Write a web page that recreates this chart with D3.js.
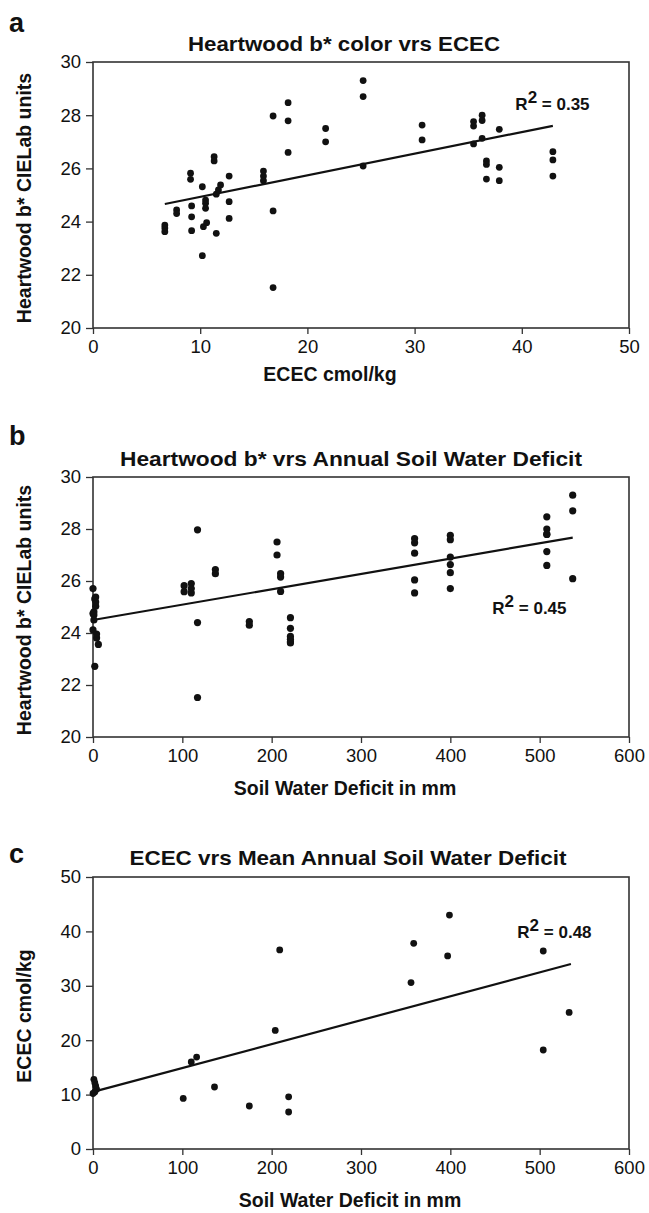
<!DOCTYPE html>
<html>
<head>
<meta charset="utf-8">
<script src="https://cdn.jsdelivr.net/npm/d3@7"></script>
<style>
  body { margin: 0; background: #fff; }
  text { font-family: "Liberation Sans", Arial, sans-serif; fill: #111; }
</style>
</head>
<body>
<svg id="chart" width="649" height="1213"></svg>
<script>
// tree level values (same trees in panel a and b)
const bstar = [23.87,23.76,23.62, 24.44,24.30, 25.82,25.59, 24.59,24.18,23.66, 25.31,22.72, 23.81,23.96,
  24.69,24.50,24.81, 26.44,26.28, 23.56, 25.03,25.19,25.38, 25.71,24.75,24.12, 25.90,25.71,25.54,
  27.97,24.40,21.52, 28.47,27.79,26.60, 27.50,27.00, 29.30,28.70,26.09, 27.63,27.07, 27.76,27.59,26.92,
  28.00,27.80,27.13, 26.28,26.15,25.60, 27.47,26.04,25.54, 26.63,26.32,25.71];
const ecec = [6.7,6.7,6.7, 7.8,7.8, 9.1,9.1, 9.2,9.2,9.2, 10.2,10.2, 10.3,10.6,
  10.5,10.5,10.5, 11.3,11.3, 11.5, 11.5,11.7,11.9, 12.7,12.7,12.7, 15.9,15.9,15.9,
  16.8,16.8,16.8, 18.2,18.2,18.2, 21.7,21.7, 25.2,25.2,25.2, 30.7,30.7, 35.5,35.5,35.5,
  36.3,36.3,36.3, 36.7,36.7,36.7, 37.9,37.9,37.9, 42.9,42.9,42.9];
const swd = [221,221,221, 175,175, 102,102, 221,221,221, 2,2, 4,4,
  1,1,1, 137,137, 6, 3,3,3, 0,0,0, 110,110,110,
  117,117,117, 508,508,508, 206,206, 537,537,537, 360,360, 400,400,400,
  508,508,508, 210,210,210, 360,360,360, 400,400,400];

// site level values (panel c)
const siteSwd  = [1,2,3,4,2,0, 101,110,116,136,175,204,209,219,219,356,359,397,399,504,504,533];
const siteEcec = [12.8,12.2,11.6,11.0,10.5,10.2, 9.3,16.0,16.9,11.4,7.9,21.8,36.6,9.6,6.8,30.6,37.8,35.5,43.0,36.4,18.2,25.1];

// fitted lines
const trendA = [[6.7, 24.66], [42.9, 27.6]];
const trendB = [[0, 24.5], [537, 27.67]];
const trendC = [[0, 10.5], [535, 34.0]];

const ticksB = [20, 22, 24, 26, 28, 30];
const ticksEcecX = [0, 10, 20, 30, 40, 50];
const ticksSwd = [0, 100, 200, 300, 400, 500, 600];
const ticksEcecY = [0, 10, 20, 30, 40, 50];

const svg = d3.select('#chart');
svg.append('rect').attr('width', 649).attr('height', 1213).attr('fill', '#fff');

const left = 93, right = 629;

function drawPanel(cfg) {
  const g = svg.append('g');
  const x = d3.scaleLinear().domain(cfg.xDomain).range([left, right]);
  const y = d3.scaleLinear().domain(cfg.yDomain).range([cfg.bottom, cfg.top]);

  // letter and title
  g.append('text').attr('x', 9).attr('y', cfg.letterY)
    .attr('font-size', 27).attr('font-weight', 'bold').text(cfg.letter);
  g.append('text').attr('x', cfg.titleX).attr('y', cfg.titleY)
    .attr('text-anchor', 'middle').attr('font-size', 21).attr('font-weight', 'bold')
    .attr('textLength', cfg.titleW).attr('lengthAdjust', 'spacingAndGlyphs')
    .text(cfg.title);

  // axes
  const xAxis = d3.axisBottom(x).tickValues(cfg.xTicks).tickSize(6).tickSizeOuter(0);
  const yAxis = d3.axisLeft(y).tickValues(cfg.yTicks).tickSize(7).tickSizeOuter(0);
  const gx = g.append('g').attr('transform', `translate(0,${cfg.bottom})`).call(xAxis);
  const gy = g.append('g').attr('transform', `translate(${left},0)`).call(yAxis);
  [gx, gy].forEach(a => {
    a.select('.domain').remove();
    a.selectAll('line').attr('stroke', '#333').attr('stroke-width', 1.3);
    a.selectAll('text').attr('font-size', 18.5).attr('fill', '#111')
      .style('font-family', '"Liberation Sans", Arial, sans-serif');
  });
  gx.selectAll('text').attr('y', 12);
  gy.selectAll('text').attr('x', -12);

  // frame
  g.append('rect').attr('x', left).attr('y', cfg.top)
    .attr('width', right - left).attr('height', cfg.bottom - cfg.top)
    .attr('fill', 'none').attr('stroke', '#333').attr('stroke-width', 1.6);

  // points
  g.selectAll('circle').data(cfg.xs).enter().append('circle')
    .attr('cx', d => x(d))
    .attr('cy', (d, i) => y(cfg.ys[i]))
    .attr('r', cfg.r).attr('fill', '#111');

  // trend line
  g.append('path').datum(cfg.trend)
    .attr('d', d3.line().x(d => x(d[0])).y(d => y(d[1])))
    .attr('stroke', '#111').attr('stroke-width', 2.2).attr('fill', 'none');

  // R squared
  const r2 = g.append('text').attr('x', x(cfg.r2At[0])).attr('y', y(cfg.r2At[1]))
    .attr('font-size', 17).attr('font-weight', 'bold');
  r2.append('tspan').text('R');
  r2.append('tspan').attr('dy', -7).text('2');
  r2.append('tspan').attr('dy', 7).text(' = ' + cfg.r2);

  // axis titles
  g.append('text').attr('x', cfg.xTitleX).attr('y', cfg.xTitleY)
    .attr('text-anchor', 'middle').attr('font-size', 19.5).attr('font-weight', 'bold')
    .text(cfg.xTitle);
  g.append('text')
    .attr('transform', `translate(31,${(cfg.top + cfg.bottom) / 2 + 3}) rotate(-90)`)
    .attr('text-anchor', 'middle').attr('font-size', 19.5).attr('font-weight', 'bold')
    .text(cfg.yTitle);
}

drawPanel({
  letter: 'a', letterY: 32, title: 'Heartwood b* color vrs ECEC', titleX: 344, titleY: 51, titleW: 312,
  top: 62, bottom: 328, xDomain: [0, 50], yDomain: [20, 30],
  xTicks: ticksEcecX, yTicks: ticksB, xs: ecec, ys: bstar, r: 3.4,
  trend: trendA, r2: '0.35', r2At: [39.4, 28.2],
  xTitle: 'ECEC cmol/kg', xTitleX: 330, xTitleY: 381, yTitle: 'Heartwood b* CIELab units'
});

drawPanel({
  letter: 'b', letterY: 445, title: 'Heartwood b*  vrs Annual Soil Water Deficit', titleX: 351, titleY: 466, titleW: 462,
  top: 477, bottom: 737, xDomain: [0, 600], yDomain: [20, 30],
  xTicks: ticksSwd, yTicks: ticksB, xs: swd, ys: bstar, r: 3.6,
  trend: trendB, r2: '0.45', r2At: [447, 24.75],
  xTitle: 'Soil Water Deficit in mm', xTitleX: 345, xTitleY: 795, yTitle: 'Heartwood b* CIELab units'
});

drawPanel({
  letter: 'c', letterY: 863, title: 'ECEC vrs Mean Annual Soil Water Deficit', titleX: 348, titleY: 865, titleW: 437,
  top: 877, bottom: 1149, xDomain: [0, 600], yDomain: [0, 50],
  xTicks: ticksSwd, yTicks: ticksEcecY, xs: siteSwd, ys: siteEcec, r: 3.4,
  trend: trendC, r2: '0.48', r2At: [475, 38.8],
  xTitle: 'Soil Water Deficit in mm', xTitleX: 350, xTitleY: 1207, yTitle: 'ECEC cmol/kg'
});
</script>
</body>
</html>
